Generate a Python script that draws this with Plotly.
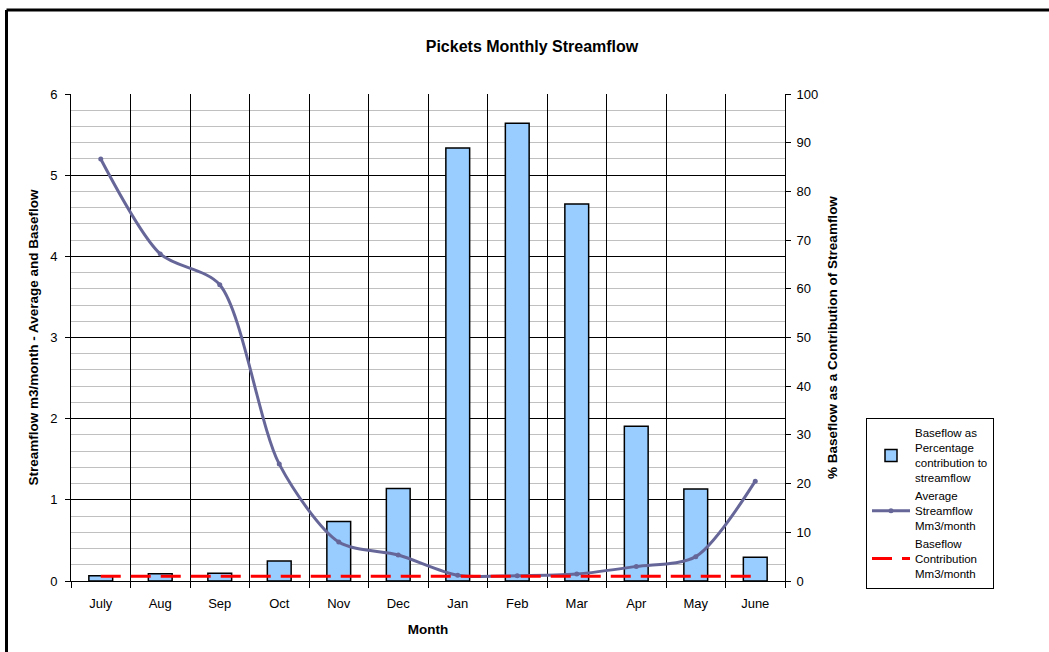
import plotly.graph_objects as go

# Monthly values for the Pickets catchment (water year July - June)
months = ["July", "Aug", "Sep", "Oct", "Nov", "Dec", "Jan", "Feb", "Mar", "Apr", "May", "June"]
baseflow_pct = [1.1, 1.5, 1.6, 4.1, 12.2, 19.0, 88.9, 94.0, 77.4, 31.8, 18.9, 4.9]
avg_streamflow = [5.2, 4.03, 3.65, 1.44, 0.48, 0.32, 0.07, 0.065, 0.085, 0.18, 0.3, 1.23]
baseflow = [0.06, 0.06, 0.06, 0.06, 0.06, 0.06, 0.06, 0.06, 0.06, 0.06, 0.06, 0.06]

W, H = 1049, 652
L, R, T, B = 71, 264, 94, 71
plot_w = W - L - R
plot_h = H - T - B


def px_x(px):
    return (px - L) / plot_w


def px_y(py):
    return (H - B - py) / plot_h


FONT = "Liberation Sans, Arial, sans-serif"

fig = go.Figure()

fig.add_trace(go.Bar(
    x=months, y=baseflow_pct, yaxis="y",
    name="Baseflow as<br>Percentage<br>contribution to<br>streamflow",
    marker=dict(color="#99CCFF", line=dict(color="#000000", width=1.5)),
    width=0.4,
))
fig.add_trace(go.Scatter(
    x=months, y=avg_streamflow, yaxis="y2",
    name="Average<br>Streamflow<br>Mm3/month",
    mode="lines+markers",
    line=dict(color="#666699", width=3, shape="spline", smoothing=0.8),
    marker=dict(color="#666699", size=5),
))
fig.add_trace(go.Scatter(
    x=months, y=baseflow, yaxis="y2",
    name="Baseflow<br>Contribution<br>Mm3/month",
    mode="lines",
    line=dict(color="#FF0000", width=3, dash="20px,10px"),
))

fig.update_layout(
    width=W, height=H,
    margin=dict(l=L, r=R, t=T, b=B),
    paper_bgcolor="white", plot_bgcolor="white",
    font=dict(family=FONT, size=13, color="#000000"),
    title=dict(text="<b>Pickets Monthly Streamflow</b>", x=532 / W, y=1 - 46 / H,
               xanchor="center", yanchor="middle", font=dict(size=16)),
    showlegend=True,
    legend=dict(x=px_x(866), y=px_y(418), xanchor="left", yanchor="top",
                bgcolor="white", bordercolor="#000000", borderwidth=1,
                font=dict(size=11.5), tracegroupgap=8, itemwidth=38),
    xaxis=dict(
        title=dict(text="<b>Month</b>", font=dict(size=13.5), standoff=14),
        tickson="boundaries", ticks="outside", ticklen=6, tickcolor="#000000",
        ticklabelstandoff=10,
        showgrid=True, gridcolor="#000000", gridwidth=1,
        showline=True, linecolor="#000000", linewidth=1,
        range=[-0.5, 11.5],
    ),
    yaxis=dict(
        side="right", range=[0, 100], dtick=10,
        ticks="outside", ticklen=5, tickcolor="#000000", ticklabelstandoff=3,
        showgrid=False, showline=True, linecolor="#000000", linewidth=1,
        zeroline=False,
        title=dict(text="<b>% Baseflow as a Contribution of Streamflow</b>",
                   font=dict(size=13.5), standoff=10),
    ),
    yaxis2=dict(
        overlaying="y", side="left", range=[0, 6], dtick=1,
        ticks="outside", ticklen=5, tickcolor="#000000", ticklabelstandoff=5,
        showgrid=True, gridcolor="#000000", gridwidth=1,
        minor=dict(dtick=0.2, showgrid=True, gridcolor="#C0C0C0", gridwidth=1),
        showline=True, linecolor="#000000", linewidth=1,
        zeroline=False,
        title=dict(text="<b>Streamflow m3/month - Average and Baseflow</b>",
                   font=dict(size=13.5), standoff=8),
    ),
    shapes=[
        dict(type="line", xref="paper", yref="paper",
             x0=px_x(6.5), x1=px_x(W + 5), y0=px_y(10), y1=px_y(10),
             line=dict(color="#000000", width=3)),
        dict(type="line", xref="paper", yref="paper",
             x0=px_x(6.5), x1=px_x(6.5), y0=px_y(10), y1=px_y(H + 5),
             line=dict(color="#000000", width=3)),
    ],
)

fig.write_html("out.html")
